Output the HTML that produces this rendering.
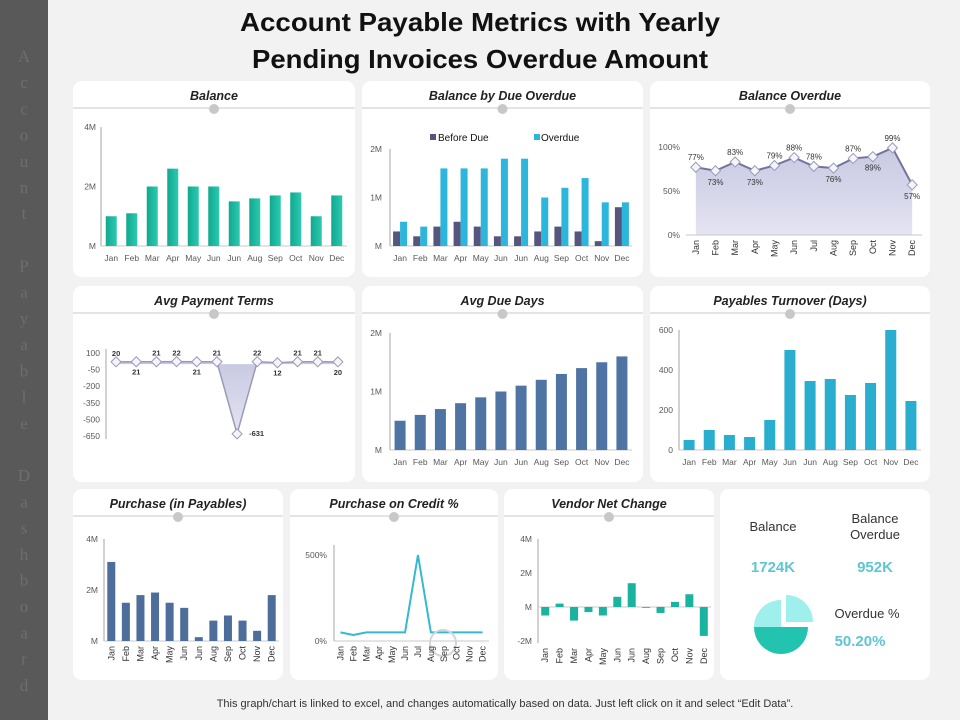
<!DOCTYPE html>
<html><head><meta charset="utf-8"><style>
body{margin:0;width:960px;height:720px;overflow:hidden;background:#f2f2f2;font-family:"Liberation Sans",sans-serif}
svg{display:block}
</style></head><body>
<svg id="root" width="960" height="720" viewBox="0 0 960 720" xmlns="http://www.w3.org/2000/svg">
<defs>
<linearGradient id="gTeal" x1="0" x2="1"><stop offset="0" stop-color="#10a990"/><stop offset="1" stop-color="#2cc9b0"/></linearGradient>
<linearGradient id="gArea" x1="0" y1="0" x2="0" y2="1"><stop offset="0" stop-color="#c8c8e2"/><stop offset="1" stop-color="#e4e4f2"/></linearGradient>
</defs>
<rect x="0" y="0" width="960" height="720" fill="#f2f2f2"/>
<rect x="0" y="0" width="48" height="720" fill="#595959"/>
<g id="side" font-family="'Liberation Serif',serif" font-size="17" fill="#6e6e6e" text-anchor="middle"></g>
<text x="480" y="31" font-size="26" font-weight="bold" text-anchor="middle" fill="#111" textLength="480" lengthAdjust="spacingAndGlyphs">Account Payable Metrics with Yearly</text>
<text x="480" y="68" font-size="26" font-weight="bold" text-anchor="middle" fill="#111" textLength="456" lengthAdjust="spacingAndGlyphs">Pending Invoices Overdue Amount</text>
<g id="panels"></g>
<text x="505" y="707" font-size="11" text-anchor="middle" fill="#333">This graph/chart is linked to excel, and changes automatically based on data. Just left click on it and select “Edit Data”.</text>
</svg>
<script>
// ---- data ----
const months=["Jan","Feb","Mar","Apr","May","Jun","Jun","Aug","Sep","Oct","Nov","Dec"];
const monthsFull=["Jan","Feb","Mar","Apr","May","Jun","Jul","Aug","Sep","Oct","Nov","Dec"];
const balanceVals=[1.0,1.1,2.0,2.6,2.0,2.0,1.5,1.6,1.7,1.8,1.0,1.7];
const balanceTicks=["M","2M","4M"];
const beforeDueVals=[0.3,0.2,0.4,0.5,0.4,0.2,0.2,0.3,0.4,0.3,0.1,0.8];
const overdueVals=[0.5,0.4,1.6,1.6,1.6,1.8,1.8,1.0,1.2,1.4,0.9,0.9];
const dueTicks=["M","1M","2M"];
const overduePctVals=[77,73,83,73,79,88,78,76,87,89,99,57];
const overduePctTicks=["0%","50%","100%"];
const payTermsVals=[20,21,21,22,21,21,-631,22,12,21,21,20];
const payTermsTicks=[100,-50,-200,-350,-500,-650];
const avgDueVals=[0.5,0.6,0.7,0.8,0.9,1.0,1.1,1.2,1.3,1.4,1.5,1.6];
const avgDueTicks=["M","1M","2M"];
const turnoverVals=[50,100,75,65,150,500,345,355,275,335,600,245];
const turnoverTicks=[0,200,400,600];
const purchaseVals=[3.1,1.5,1.8,1.9,1.5,1.3,0.15,0.8,1.0,0.8,0.4,1.8];
const purchaseTicks=["M","2M","4M"];
const creditVals=[50,35,50,50,50,50,500,50,50,50,50,50];
const creditTicks=["0%","500%"];
const vendorVals=[-0.5,0.2,-0.8,-0.3,-0.5,0.6,1.4,-0.05,-0.35,0.3,0.75,-1.7];
const vendorTicks=["-2M","M","2M","4M"];
const overduePct=50.2;

const NS="http://www.w3.org/2000/svg";
const root=document.getElementById("panels");
function mk(tag,attrs,parent){const e=document.createElementNS(NS,tag);for(const k in attrs)e.setAttribute(k,attrs[k]);(parent||root).appendChild(e);return e;}
function lin(d0,d1,p0,p1){return v=>p0+(v-d0)*(p1-p0)/(d1-d0);}
function band(n,x0,x1){const w=(x1-x0)/n;return i=>x0+w*(i+0.5);}

// sidebar letters
const side=document.getElementById("side");
const sideText="Account Payable Dashboard";
for(let i=0;i<sideText.length;i++){
  if(sideText[i]===" ")continue;
  const t=mk("text",{x:24,y:62+i*26.2},side);t.textContent=sideText[i];
  
  
}

function panel(name,title,x,y,w,h){
  const g=mk("g",{});
  
  
  const r=mk("rect",{x:x,y:y,width:w,height:h,rx:9,fill:"#fff"},g);
  
  
  if(title){
    const t=mk("text",{x:x+w/2,y:y+19,"font-size":12.5,"font-weight":"bold","font-style":"italic","text-anchor":"middle",fill:"#222","font-family":"'Liberation Sans Narrow','Liberation Sans',sans-serif"},g);
    t.textContent=title;
    
    
    const l=mk("line",{x1:x,y1:y+27,x2:x+w,y2:y+27,stroke:"#c8c8c8","stroke-width":1},g);
    
    
    const c=mk("circle",{cx:x+w/2,cy:y+28,r:5,fill:"#c8c8c8"},g);
    
    
  }
  return g;
}
function txt(g,x,y,s,opts){const t=mk("text",Object.assign({x:x,y:y,"font-size":8.5,fill:"#595959"},opts||{}),g);t.textContent=s;return t;}
function yAxis(g,x,yTop,yBot){const l=mk("line",{x1:x,y1:yTop,x2:x,y2:yBot,stroke:"#a6a6a6"},g);}
function xAxis(g,x0,x1,y){const l=mk("line",{x1:x0,y1:y,x2:x1,y2:y,stroke:"#c8c8c8"},g);}
function catLabels(g,cats,bx,y,rot){
  cats.forEach((c,i)=>{
    let t;
    if(rot){t=txt(g,0,0,c,{"text-anchor":"end",transform:`translate(${bx(i)+3},${y}) rotate(-90)`,"font-size":9,fill:"#333"});}
    else t=txt(g,bx(i),y,c,{"text-anchor":"middle"});
    
    
  });
}
function tickLabels(g,labels,vals,sy,x){
  labels.forEach((s,i)=>{const t=txt(g,x,sy(vals[i])+3,s,{"text-anchor":"end"});
    
    });
}
function bars(g,vals,bx,sy,w,fill,off){
  vals.forEach((v,i)=>{const y0=sy(0),y1=sy(v);
    const r=mk("rect",{x:bx(i)-w/2+(off||0),y:Math.min(y0,y1),width:w,height:Math.abs(y1-y0),fill:fill},g);
    
    });
}
function diamond(g,x,y,name){const p=mk("path",{d:`M${x} ${y-5}L${x+5} ${y}L${x} ${y+5}L${x-5} ${y}Z`,fill:"#f4f4fa",stroke:"#9a9ab8","stroke-width":1},g);
  
  }

// 1 Balance
(function(){const g=panel("balance-panel","Balance",73,81,282,196);
  const sy=lin(0,4,246,127),bx=band(12,101,347);
  yAxis(g,101,127,246);xAxis(g,101,347,246);
  tickLabels(g,balanceTicks,[0,2,4],sy,96);
  bars(g,balanceVals,bx,sy,11,"url(#gTeal)");
  catLabels(g,months,bx,261);})();

// 2 Balance by due overdue
(function(){const g=panel("balance-by-due-panel","Balance by Due Overdue",362,81,281,196);
  const sy=lin(0,2,246,149),bx=band(12,390,632);
  yAxis(g,390,149,246);xAxis(g,390,632,246);
  tickLabels(g,dueTicks,[0,1,2],sy,382);
  bars(g,beforeDueVals,bx,sy,7,"#55557e",-3.5);
  bars(g,overdueVals,bx,sy,7,"#2db6dc",3.5);
  catLabels(g,months,bx,261);
  const a=mk("rect",{x:430,y:134,width:6,height:6,fill:"#55557e"},g);
  let t=txt(g,438,141,"Before Due",{fill:"#111","font-size":10});
  const b=mk("rect",{x:534,y:134,width:6,height:6,fill:"#2db6dc"},g);
  t=txt(g,541,141,"Overdue",{fill:"#111","font-size":10});})();

// 3 Balance Overdue
(function(){const g=panel("balance-overdue-panel","Balance Overdue",650,81,280,196);
  const sy=lin(0,100,235,147),bx=band(12,686,922);
  tickLabels(g,overduePctTicks,[0,50,100],sy,680);
  let d=`M${bx(0)} ${sy(0)}`;overduePctVals.forEach((v,i)=>d+=`L${bx(i)} ${sy(v)}`);d+=`L${bx(11)} ${sy(0)}Z`;
  const a=mk("path",{d:d,fill:"url(#gArea)"},g);
  const l=mk("polyline",{points:overduePctVals.map((v,i)=>bx(i)+","+sy(v)).join(" "),fill:"none",stroke:"#73739e","stroke-width":2},g);
  
  xAxis(g,686,922,235);
  const below=[1,3,7,9,11];
  overduePctVals.forEach((v,i)=>{diamond(g,bx(i),sy(v),'overdue-point');
    const yy=below.includes(i)?sy(v)+14:sy(v)-7;
    const t=txt(g,bx(i),yy,v+"%",{"text-anchor":"middle","font-size":8,fill:"#333"});
    });
  catLabels(g,monthsFull,bx,240,true);})();

// 4 Avg Payment Terms
(function(){const g=panel("avg-payment-terms-panel","Avg Payment Terms",73,286,282,196);
  const sy=lin(100,-650,353,436),bx=band(12,106,348);
  yAxis(g,106,349,439);
  tickLabels(g,payTermsTicks.map(String),payTermsTicks,sy,100);
  let d=`M${bx(0)} ${sy(0)}`;payTermsVals.forEach((v,i)=>d+=`L${bx(i)} ${sy(v)}`);d+=`L${bx(11)} ${sy(0)}Z`;
  const a=mk("path",{d:d,fill:"url(#gArea)"},g);
  const l=mk("polyline",{points:payTermsVals.map((v,i)=>bx(i)+","+sy(v)).join(" "),fill:"none",stroke:"#9a9ab8","stroke-width":1.5},g);
  
  const below=[1,4,8,11];
  payTermsVals.forEach((v,i)=>{diamond(g,bx(i),sy(v),'terms-point');
    let t;
    if(v<0)t=txt(g,bx(i)+12,sy(v)+2,String(v),{"font-size":7.5,"font-weight":"bold",fill:"#333"});
    else t=txt(g,bx(i),below.includes(i)?sy(v)+13:sy(v)-6,String(v),{"text-anchor":"middle","font-size":7.5,"font-weight":"bold",fill:"#333"});
    });})();

// 5 Avg Due Days
(function(){const g=panel("avg-due-days-panel","Avg Due Days",362,286,281,196);
  const sy=lin(0,2,450,333),bx=band(12,390,632);
  yAxis(g,390,333,450);xAxis(g,390,632,450);
  tickLabels(g,avgDueTicks,[0,1,2],sy,382);
  bars(g,avgDueVals,bx,sy,11,"#4f74a3");
  catLabels(g,months,bx,465);})();

// 6 Payables Turnover
(function(){const g=panel("payables-turnover-panel","Payables Turnover (Days)",650,286,280,196);
  const sy=lin(0,600,450,330),bx=band(12,679,921);
  yAxis(g,679,330,450);xAxis(g,679,921,450);
  tickLabels(g,turnoverTicks.map(String),turnoverTicks,sy,673);
  bars(g,turnoverVals,bx,sy,11,"#2aaed0");
  catLabels(g,months,bx,465);})();

// 7 Purchase
(function(){const g=panel("purchase-panel","Purchase (in Payables)",73,489,210,191);
  const sy=lin(0,4,641,539),bx=band(12,104,279);
  yAxis(g,104,539,641);xAxis(g,104,279,641);
  tickLabels(g,purchaseTicks,[0,2,4],sy,98);
  bars(g,purchaseVals,bx,sy,8,"#4d6e9a");
  catLabels(g,months,bx,646,true);})();

// 8 Purchase on Credit
(function(){const g=panel("purchase-credit-panel","Purchase on Credit %",290,489,208,191);
  const sy=lin(0,500,641,555),bx=band(12,334,489);
  yAxis(g,334,545,641);xAxis(g,334,489,641);
  tickLabels(g,creditTicks,[0,500],sy,327);
  const l=mk("polyline",{points:creditVals.map((v,i)=>bx(i)+","+sy(v)).join(" "),fill:"none",stroke:"#36b8d0","stroke-width":2},g);
  
  const c=mk("circle",{cx:443,cy:643,r:13,fill:"none",stroke:"#d4d4dc","stroke-width":2},g);
  
  catLabels(g,monthsFull,bx,646,true);})();

// 9 Vendor Net Change
(function(){const g=panel("vendor-net-change-panel","Vendor Net Change",504,489,210,191);
  const sy=lin(0,4,607,539),bx=band(12,538,711);
  yAxis(g,538,539,643);xAxis(g,538,711,607);
  tickLabels(g,vendorTicks,[-2,0,2,4],sy,532);
  bars(g,vendorVals,bx,sy,8,"#1ab39f");
  catLabels(g,months,bx,648,true);})();

// 10 KPI
(function(){const g=panel("kpi-panel","",720,489,210,191);
  const mkT=(x,y,s,o,n)=>{const t=txt(g,x,y,s,Object.assign({"text-anchor":"middle","font-size":13,fill:"#333"},o));};
  mkT(773,531,"Balance",{},"kpi-balance-label");
  mkT(875,523,"Balance",{},"kpi-overdue-label");
  mkT(875,539,"Overdue",{},"kpi-overdue-label-2");
  mkT(773,572,"1724K",{"font-size":15,"font-weight":"bold",fill:"#5ec6d2"},"kpi-balance-value");
  mkT(875,572,"952K",{"font-size":15,"font-weight":"bold",fill:"#5ec6d2"},"kpi-overdue-value");
  mkT(867,618,"Overdue %",{},"kpi-overdue-pct-label");
  mkT(860,646,"50.20%",{"font-size":15,"font-weight":"bold",fill:"#5ec6d2"},"kpi-overdue-pct-value");
  const cx=781,cy=627,r=27;
  const arc=(a0,a1,dx,dy,fill,n)=>{const p=(a)=>[cx+dx+r*Math.cos(a),cy+dy+r*Math.sin(a)];const s=p(a0),e=p(a1);
    const pa=mk("path",{d:`M${cx+dx} ${cy+dy}L${s[0]} ${s[1]}A${r} ${r} 0 ${a1-a0>Math.PI?1:0} 1 ${e[0]} ${e[1]}Z`,fill:fill},g);
    };
  const split=Math.PI*2*overduePct/100;
  arc(0,Math.PI,0,0,"#22c4b0","pie-slice-dark");
  arc(Math.PI,Math.PI*1.5,0,0,"#9ff0ec","pie-slice-light");
  arc(-Math.PI/2,0,5,-5,"#9ff0ec","pie-slice-exploded");})();
</script>
</body></html>
